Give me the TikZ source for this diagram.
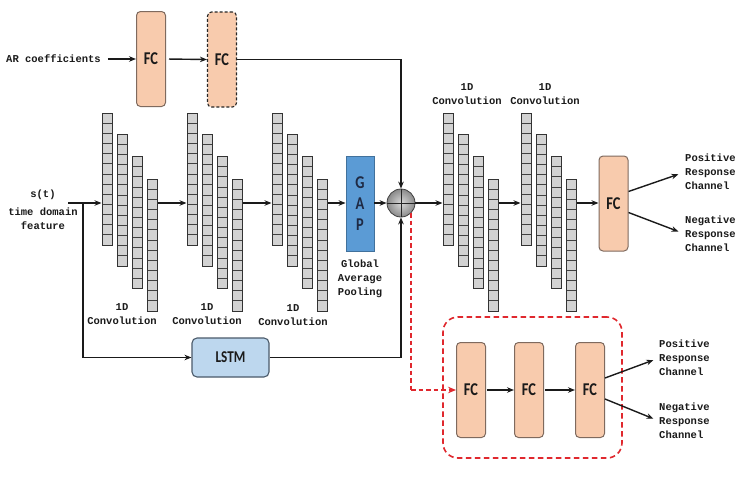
\documentclass[tikz,border=0pt]{standalone}
\usepackage{fontspec}
\setmainfont{Liberation Mono}
\newfontfamily\fcfont[FakeStretch=0.8]{Carlito}
\usetikzlibrary{arrows.meta,calc,shadings}
\definecolor{peach}{HTML}{F8CBAD}
\definecolor{peachedge}{HTML}{7F6A5E}
\definecolor{gapblue}{HTML}{5B9BD5}
\definecolor{gapedge}{HTML}{41719C}
\definecolor{gaptext}{HTML}{1F2A44}
\definecolor{lstmfill}{HTML}{BDD7EE}
\definecolor{lstmedge}{HTML}{4A5A6A}
\definecolor{cellgray}{HTML}{D2D2D2}
\definecolor{redd}{HTML}{E0282E}
\definecolor{ink}{HTML}{1A1A1A}
\definecolor{ballin}{HTML}{DADADA}
\definecolor{ballout}{HTML}{8A8A8A}
\tikzset{
  fcbox/.style={draw=peachedge, fill=peach, rounded corners=4pt, minimum width=29pt,
    minimum height=95pt, inner sep=0pt, line width=1pt, text=ink,
    font=\fcfont\bfseries\fontsize{18}{18}\selectfont},
  col/.style={draw=black!80, fill=cellgray, minimum width=10pt, minimum height=132pt,
    inner sep=0pt, line width=1pt,
    path picture={\foreach \k in {1,...,12}{\draw[line width=0.8pt, black!75]
      ([yshift=-\k*10.15pt]path picture bounding box.north west) --
      ([yshift=-\k*10.15pt]path picture bounding box.north east);}}},
  lbl/.style={font=\bfseries\fontsize{10.5}{14}\selectfont, align=center, inner sep=0pt, text=ink},
  arr/.style={-{Stealth[length=7pt,width=5.5pt]}, line width=1.4pt, draw=ink},
  reddash/.style={line width=1.6pt, color=redd, dash pattern=on 4.5pt off 3pt},
  redarr/.style={reddash, -{Stealth[length=8pt,width=6.5pt,fill=redd,color=redd]}},
}
\begin{document}
\begin{tikzpicture}[x=1pt,y=-1pt]
\useasboundingbox[fill=white] (0,0) rectangle (747,482);
\coordinate (ax) at (0,203);
% top branch
\node[lbl, anchor=west] (ar) at (6,59) {AR coefficients};
\node[fcbox] (fc1) at (151,59) {FC};
\node[fcbox, draw=black!85, dash pattern=on 3pt off 2pt, line width=1.1pt] (fc2) at (222,59.5) {FC};
% conv stacks
\foreach \s/\ox in {1/0,2/85,3/170,4/341,5/419}{
  \foreach \c/\dx/\cy in {1/0/179,2/15/200,3/30/222.5,4/45/245}{
    \node[col] (s\s-\c) at (107+\ox+\dx,\cy) {};
  }
}
\node[lbl] (cl1) at (122,314) {1D\\Convolution};
\node[lbl] (cl2) at (207,314) {1D\\Convolution};
\node[lbl] (cl3) at (293,315) {1D\\Convolution};
\node[lbl] (cl4) at (467,94.5) {1D\\Convolution};
\node[lbl] (cl5) at (545,94.5) {1D\\Convolution};
% input
\node[lbl] (st) at (43,210) {s(t)\\[4pt]time domain\\feature};
\coordinate (in) at (68,203);
\coordinate (tap) at (83,203);
% GAP
\node[draw=gapedge, fill=gapblue, minimum width=28pt, minimum height=95pt, inner sep=0pt,
  line width=0.8pt, align=center, text=gaptext,
  font=\fcfont\bfseries\fontsize{18}{21}\selectfont] (gap) at (360,203.5) {G\\A\\P};
\node[lbl] (gapl) at (360,279) {Global\\Average\\Pooling};
% sum
\node[circle, minimum size=28pt, inner sep=0pt, shading=radial, inner color=ballin,
  outer color=ballout, draw=gray!50!black, line width=0.8pt] (sum) at (401,203) {};
\draw[gray!30!black, line width=0.7pt] (sum.north) -- (sum.south) (sum.west) -- (sum.east);
% right FC
\node[fcbox] (fc3) at (613.5,203.5) {FC};
\node[lbl, anchor=west, align=left] (pos1) at (685,172) {Positive\\Response\\Channel};
\node[lbl, anchor=west, align=left] (neg1) at (685,234) {Negative\\Response\\Channel};
% LSTM
\node[draw=lstmedge, fill=lstmfill, rounded corners=5pt, minimum width=77pt,
  minimum height=39pt, line width=1.1pt, text=ink,
  font=\fcfont\bfseries\fontsize{16.5}{16.5}\selectfont] (lstm) at (230.5,357.5) {LSTM};
% red group
\node[draw=redd, rounded corners=15pt, line width=1.6pt, dash pattern=on 5.5pt off 3.5pt,
  minimum width=179pt, minimum height=141pt] (grp) at (532.5,387.5) {};
\node[fcbox] (fca) at (471,390) {FC};
\node[fcbox] (fcb) at (529,390) {FC};
\node[fcbox] (fcc) at (590,390) {FC};
\node[lbl, anchor=west, align=left] (pos2) at (659,358) {Positive\\Response\\Channel};
\node[lbl, anchor=west, align=left] (neg2) at (659,421) {Negative\\Response\\Channel};
% connectors
\draw[arr, shorten <=7pt] (ar.east) -- (fc1.west);
\draw[arr, shorten <=3pt] (fc1.east) -- (fc2.west);
\draw[arr] (fc2.east) -| (sum.north);
\draw[arr] (in) -- (in -| s1-1.west);
\draw[arr] (s1-4.east |- ax) -- (s2-1.west |- ax);
\draw[arr] (s2-4.east |- ax) -- (s3-1.west |- ax);
\draw[arr] (s3-4.east |- ax) -- (gap.west |- ax);
\draw[arr] (gap.east |- ax) -- (sum.west);
\draw[arr] (sum.east) -- (s4-1.west |- ax);
\draw[arr] (s4-4.east |- ax) -- (s5-1.west |- ax);
\draw[arr] (s5-4.east |- ax) -- (fc3.west |- ax);
\draw[arr, shorten >=7pt] ([yshift=12pt]fc3.east) -- (pos1.west);
\draw[arr, shorten >=7pt] ([yshift=-9pt]fc3.east) -- (neg1.west);
\draw[arr] (tap) |- (lstm.west);
\draw[arr] (lstm.east) -| (sum.south);
\coordinate (rc) at (sum.-45 |- fca.west);
\draw[reddash] (sum.-45) -- (rc);
\draw[redarr] (rc) -- (fca.west);
\draw[arr, shorten <=1pt] (fca.east) -- (fcb.west);
\draw[arr, shorten <=1pt] (fcb.east) -- (fcc.west);
\draw[arr, shorten >=6pt] ([yshift=12pt]fcc.east) -- (pos2.west);
\draw[arr, shorten >=6pt] ([yshift=-9pt]fcc.east) -- (neg2.west);
\end{tikzpicture}
\end{document}
